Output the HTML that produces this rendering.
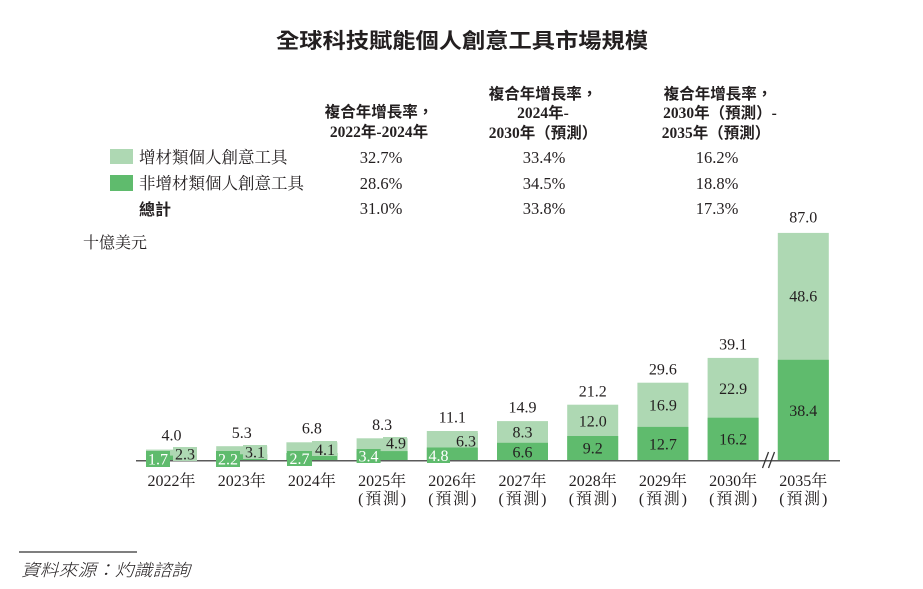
<!DOCTYPE html>
<html><head><meta charset="utf-8"><style>
html,body{margin:0;padding:0;background:#fff;}
svg{display:block;}
.n{font-family:"Liberation Serif","Noto Serif CJK SC",serif;font-size:16px;fill:#231f20;}
.w{fill:#fff;}
.hd{font-family:"Liberation Serif","Noto Sans CJK TC",sans-serif;font-size:15.5px;font-weight:bold;fill:#231f20;}
.lg{font-family:"Liberation Serif","Noto Serif CJK SC",serif;font-size:16.5px;fill:#231f20;}
.ax{font-family:"Liberation Serif","Noto Serif CJK SC",serif;font-size:16px;fill:#231f20;}
</style></head><body>
<svg width="923" height="589" viewBox="0 0 923 589" xmlns="http://www.w3.org/2000/svg">
<rect width="923" height="589" fill="#fff"/>
<!-- title -->
<text x="462" y="48" text-anchor="middle" textLength="372" lengthAdjust="spacingAndGlyphs" style="font-family:'Liberation Sans','Noto Sans CJK TC',sans-serif;font-size:21px;font-weight:bold;fill:#231f20">全球科技賦能個人創意工具市場規模</text>

<!-- header -->
<text class="hd" x="379" y="117" text-anchor="middle">複合年增長率，</text>
<text class="hd" x="379" y="137" text-anchor="middle">2022年-2024年</text>
<text class="hd" x="543" y="99" text-anchor="middle">複合年增長率，</text>
<text class="hd" x="543" y="118" text-anchor="middle">2024年-</text>
<text class="hd" x="543" y="138" text-anchor="middle">2030年（預測）</text>
<text class="hd" x="718" y="99" text-anchor="middle">複合年增長率，</text>
<text class="hd" x="720" y="118" text-anchor="middle">2030年（預測）-</text>
<text class="hd" x="716" y="138" text-anchor="middle">2035年（預測）</text>

<!-- legend rows -->
<rect x="110" y="149" width="23" height="15" fill="#aed8b3"/>
<text class="lg" x="139" y="163">增材類個人創意工具</text>
<rect x="110" y="175" width="23" height="16" fill="#5fbb6d"/>
<text class="lg" x="139" y="189">非增材類個人創意工具</text>
<text x="139" y="215" style="font-family:'Liberation Sans','Noto Sans CJK TC',sans-serif;font-size:16px;font-weight:bold;fill:#231f20">總計</text>

<text class="n" x="381" y="163" text-anchor="middle" style="font-size:16.5px">32.7%</text>
<text class="n" x="544" y="163" text-anchor="middle" style="font-size:16.5px">33.4%</text>
<text class="n" x="717" y="163" text-anchor="middle" style="font-size:16.5px">16.2%</text>
<text class="n" x="381" y="189" text-anchor="middle" style="font-size:16.5px">28.6%</text>
<text class="n" x="544" y="189" text-anchor="middle" style="font-size:16.5px">34.5%</text>
<text class="n" x="717" y="189" text-anchor="middle" style="font-size:16.5px">18.8%</text>
<text class="n" x="381" y="214" text-anchor="middle" style="font-size:16.5px">31.0%</text>
<text class="n" x="544" y="214" text-anchor="middle" style="font-size:16.5px">33.8%</text>
<text class="n" x="717" y="214" text-anchor="middle" style="font-size:16.5px">17.3%</text>

<text class="lg" x="83" y="248" style="font-size:16px">十億美元</text>

<!-- bars: light (full) then dark -->
<g fill="#aed8b3">
<rect x="146" y="449.6" width="51" height="10.4"/>
<rect x="216.2" y="446.2" width="51" height="13.8"/>
<rect x="286.4" y="442.3" width="51" height="17.7"/>
<rect x="356.6" y="438.3" width="51" height="21.7"/>
<rect x="426.8" y="431" width="51" height="29"/>
<rect x="497" y="421.1" width="51" height="38.9"/>
<rect x="567.2" y="404.7" width="51" height="55.3"/>
<rect x="637.4" y="382.7" width="51" height="77.3"/>
<rect x="707.6" y="357.9" width="51" height="102.1"/>
<rect x="777.8" y="232.9" width="51" height="227.1"/>
</g>
<g fill="#5fbb6d">
<rect x="146" y="455.6" width="51" height="4.4"/>
<rect x="216.2" y="454.3" width="51" height="5.7"/>
<rect x="286.4" y="453" width="51" height="7"/>
<rect x="356.6" y="451.1" width="51" height="8.9"/>
<rect x="426.8" y="447.5" width="51" height="12.5"/>
<rect x="497" y="442.8" width="51" height="17.2"/>
<rect x="567.2" y="436" width="51" height="24"/>
<rect x="637.4" y="426.9" width="51" height="33.1"/>
<rect x="707.6" y="417.7" width="51" height="42.3"/>
<rect x="777.8" y="359.8" width="51" height="100.2"/>
</g>

<!-- baseline -->
<line x1="136" y1="460.7" x2="840" y2="460.7" stroke="#5a5a5a" stroke-width="1.5"/>
<!-- break marks -->
<line x1="762.5" y1="468" x2="768.5" y2="452" stroke="#333" stroke-width="1.3"/>
<line x1="768.5" y1="468" x2="774.5" y2="452" stroke="#333" stroke-width="1.3"/>

<!-- small-bar label boxes -->
<g fill="#aed8b3">
<rect x="173" y="447" width="24" height="14"/>
<rect x="243" y="445" width="24" height="14"/>
<rect x="312" y="441" width="25" height="15"/>
<rect x="383" y="437" width="24" height="14"/>
<rect x="454" y="433" width="24" height="14"/>
</g>
<g fill="#5fbb6d">
<rect x="146" y="451" width="24" height="16"/>
<rect x="216" y="451" width="24" height="16"/>
<rect x="287" y="451" width="25" height="15"/>
<rect x="356.6" y="449" width="24" height="14"/>
<rect x="427" y="448" width="23" height="15"/>
</g>

<!-- small-bar labels -->
<text class="n w" x="158" y="464.5" text-anchor="middle">1.7</text>
<text class="n" x="185" y="459.5" text-anchor="middle">2.3</text>
<text class="n w" x="228" y="464.5" text-anchor="middle">2.2</text>
<text class="n" x="255" y="457.5" text-anchor="middle">3.1</text>
<text class="n w" x="299.5" y="464" text-anchor="middle">2.7</text>
<text class="n" x="325" y="455" text-anchor="middle">4.1</text>
<text class="n w" x="368.5" y="461.5" text-anchor="middle">3.4</text>
<text class="n" x="396" y="448.5" text-anchor="middle">4.9</text>
<text class="n w" x="438.5" y="461" text-anchor="middle">4.8</text>
<text class="n" x="466" y="446.5" text-anchor="middle">6.3</text>

<!-- segment labels -->
<text class="n" x="522.5" y="437.5" text-anchor="middle">8.3</text>
<text class="n" x="522.5" y="457.5" text-anchor="middle">6.6</text>
<text class="n" x="592.7" y="426.5" text-anchor="middle">12.0</text>
<text class="n" x="592.7" y="453.5" text-anchor="middle">9.2</text>
<text class="n" x="662.9" y="410.5" text-anchor="middle">16.9</text>
<text class="n" x="662.9" y="449.5" text-anchor="middle">12.7</text>
<text class="n" x="733.1" y="394" text-anchor="middle">22.9</text>
<text class="n" x="733.1" y="444.5" text-anchor="middle">16.2</text>
<text class="n" x="803.3" y="301.5" text-anchor="middle">48.6</text>
<text class="n" x="803.3" y="416" text-anchor="middle">38.4</text>

<!-- totals -->
<text class="n" x="171.5" y="440.5" text-anchor="middle">4.0</text>
<text class="n" x="241.7" y="438" text-anchor="middle">5.3</text>
<text class="n" x="311.9" y="433.5" text-anchor="middle">6.8</text>
<text class="n" x="382.1" y="430" text-anchor="middle">8.3</text>
<text class="n" x="452.3" y="422.5" text-anchor="middle">11.1</text>
<text class="n" x="522.5" y="412.5" text-anchor="middle">14.9</text>
<text class="n" x="592.7" y="396.5" text-anchor="middle">21.2</text>
<text class="n" x="662.9" y="374.5" text-anchor="middle">29.6</text>
<text class="n" x="733.1" y="349.5" text-anchor="middle">39.1</text>
<text class="n" x="803.3" y="222.5" text-anchor="middle">87.0</text>

<!-- x labels -->
<g class="ax" text-anchor="middle">
<text x="171.5" y="486">2022年</text>
<text x="241.7" y="486">2023年</text>
<text x="311.9" y="486">2024年</text>
<text x="382.1" y="486">2025年</text>
<text x="452.3" y="486">2026年</text>
<text x="522.5" y="486">2027年</text>
<text x="592.7" y="486">2028年</text>
<text x="662.9" y="486">2029年</text>
<text x="733.1" y="486">2030年</text>
<text x="803.3" y="486">2035年</text>
<text x="382.1" y="504" textLength="48" lengthAdjust="spacing">(預測)</text>
<text x="452.3" y="504" textLength="48" lengthAdjust="spacing">(預測)</text>
<text x="522.5" y="504" textLength="48" lengthAdjust="spacing">(預測)</text>
<text x="592.7" y="504" textLength="48" lengthAdjust="spacing">(預測)</text>
<text x="662.9" y="504" textLength="48" lengthAdjust="spacing">(預測)</text>
<text x="733.1" y="504" textLength="48" lengthAdjust="spacing">(預測)</text>
<text x="803.3" y="504" textLength="48" lengthAdjust="spacing">(預測)</text>
</g>

<!-- footer -->
<line x1="19" y1="552" x2="137" y2="552" stroke="#333" stroke-width="1.2"/>
<text x="21" y="576" textLength="169" lengthAdjust="spacingAndGlyphs" style="font-family:'Noto Sans CJK TC','Noto Serif CJK SC',serif;font-size:17px;font-style:italic;font-weight:300;fill:#231f20">資料來源：灼識諮詢</text>
</svg>
</body></html>
